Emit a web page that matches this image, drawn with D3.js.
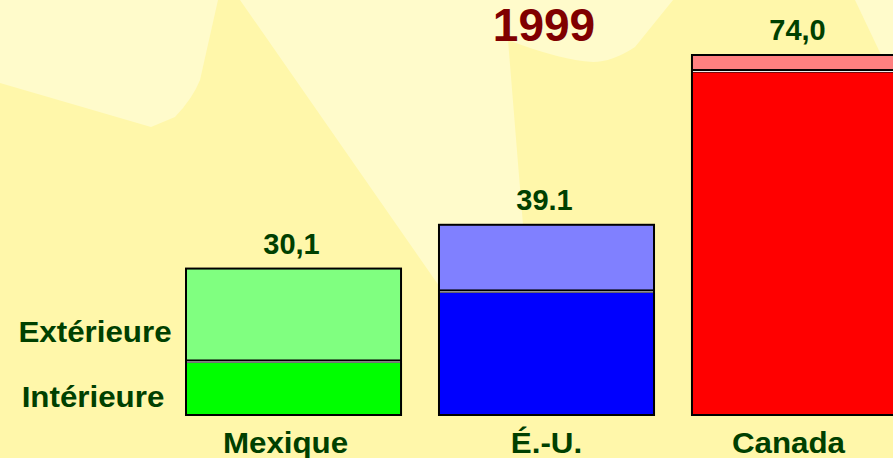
<html>
<head>
    <meta charset="utf-8">
    <style>
        body { margin: 0; background: #fff7aa; }
        svg { display: block; }
        .lbl { font-family: "Liberation Sans", Arial, sans-serif; font-weight: bold; fill: #004000; font-size: 29px; }
        .title { font-family: "Liberation Sans", Arial, sans-serif; font-weight: bold; fill: #800000; }
    </style>
    <script src="https://d3js.org/d3.v7.min.js"></script>
</head>
<body>
<svg width="893" height="458"></svg>
<script>
    // data
    var categories = ["Mexique", "É.-U.", "Canada"];
    var interieure = [10.9, 25.3, 70.6];
    var exterieure = [19.2, 13.8, 3.4];
    var totalLabels = ["30,1", "39.1", "74,0"];
    var darkColors = ["#00ff00", "#0000ff", "#ff0000"];
    var lightColors = ["#80ff80", "#8080ff", "#ff8080"];
    var rowLabels = ["Extérieure", "Intérieure"];

    var svg = d3.select("svg");

    // background: pale yellow with lighter rays
    var bg = svg.append("g");
    bg.append("rect").attr("width", 893).attr("height", 458).attr("fill", "#fff7aa");
    var light = "#fffbcb";
    bg.append("path").attr("fill", light)
        .attr("d", "M0,0 L218,0 L200,80 Q193,98 175,117 L151,127 L0,83 Z");
    bg.append("path").attr("fill", light)
        .attr("d", "M240,0 L673,0 L635,47 Q612,62 593,62 Q560,60 508,40 L523,225 L540,300 L450,300 L437,283 Z");
    bg.append("path").attr("fill", light)
        .attr("d", "M855,0 L893,0 L893,80 Z");

    var x = d3.scaleBand().domain(categories).range([186, 907]).paddingInner(0.15).paddingOuter(0);
    var y = d3.scaleLinear().domain([0, 74]).range([415, 55]);

    var rows = categories.map(function(c, i) {
        return { cat: c, lo: interieure[i], hi: exterieure[i], total: totalLabels[i], dark: darkColors[i], lightc: lightColors[i] };
    });

    var bars = svg.selectAll(".bar").data(rows).enter().append("g").attr("class", "bar");

    // coloured fringe just outside bottom/right edge
    bars.append("rect")
        .attr("x", function(d) { return x(d.cat) + 1; })
        .attr("y", function(d) { return y(d.lo) + 1; })
        .attr("width", x.bandwidth())
        .attr("height", function(d) { return y(0) - y(d.lo); })
        .attr("fill", function(d) { return d.dark; });

    // interior segment
    bars.append("rect")
        .attr("x", function(d) { return x(d.cat); })
        .attr("y", function(d) { return y(d.lo); })
        .attr("width", x.bandwidth())
        .attr("height", function(d) { return y(0) - y(d.lo); })
        .attr("fill", function(d) { return d.dark; })
        .attr("stroke", "#000").attr("stroke-width", 2);

    // exterior segment
    bars.append("rect")
        .attr("x", function(d) { return x(d.cat); })
        .attr("y", function(d) { return y(d.lo + d.hi); })
        .attr("width", x.bandwidth())
        .attr("height", function(d) { return y(d.lo) - y(d.lo + d.hi) - 1.5; })
        .attr("fill", function(d) { return d.lightc; })
        .attr("stroke", "#000").attr("stroke-width", 2);

    // thin white separator
    bars.append("line")
        .attr("x1", function(d) { return x(d.cat) + 1; })
        .attr("x2", function(d) { return x(d.cat) + x.bandwidth() - 1; })
        .attr("y1", function(d) { return y(d.lo); })
        .attr("y2", function(d) { return y(d.lo); })
        .attr("stroke", "#f4f4f4").attr("stroke-width", 1);

    // totals above bars
    bars.append("text").attr("class", "lbl")
        .attr("x", function(d) { return x(d.cat) + x.bandwidth() / 2 - 2; })
        .attr("y", function(d) { return y(d.lo + d.hi) - 15; })
        .attr("text-anchor", "middle")
        .text(function(d) { return d.total; });

    // words in the reference are drawn a bit wider than Liberation Sans
    var wide = "scale(1.08,1)";

    // category labels (the last one sits a little left of its clipped bar)
    var shift = function(i) { return i === 0 ? -8 : (i === 2 ? -11 : 0); };
    bars.append("text").attr("class", "lbl")
        .attr("transform", function(d, i) {
            return "translate(" + (x(d.cat) + x.bandwidth() / 2 + shift(i)) + ",453) " + wide;
        })
        .attr("text-anchor", "middle")
        .text(function(d) { return d.cat; });

    // row labels, placed against the Mexique segments
    svg.append("text").attr("class", "lbl")
        .attr("transform", "translate(95," + (y(interieure[0] + exterieure[0] / 2) + 27) + ") " + wide)
        .attr("text-anchor", "middle")
        .text(rowLabels[0]);
    svg.append("text").attr("class", "lbl")
        .attr("transform", "translate(93," + (y(interieure[0] / 2) + 19) + ") " + wide)
        .attr("text-anchor", "middle")
        .text(rowLabels[1]);

    svg.append("text").attr("class", "title")
        .attr("x", 544).attr("y", 41)
        .attr("text-anchor", "middle").style("font-size", "46px")
        .text("1999");
</script>
</body>
</html>
